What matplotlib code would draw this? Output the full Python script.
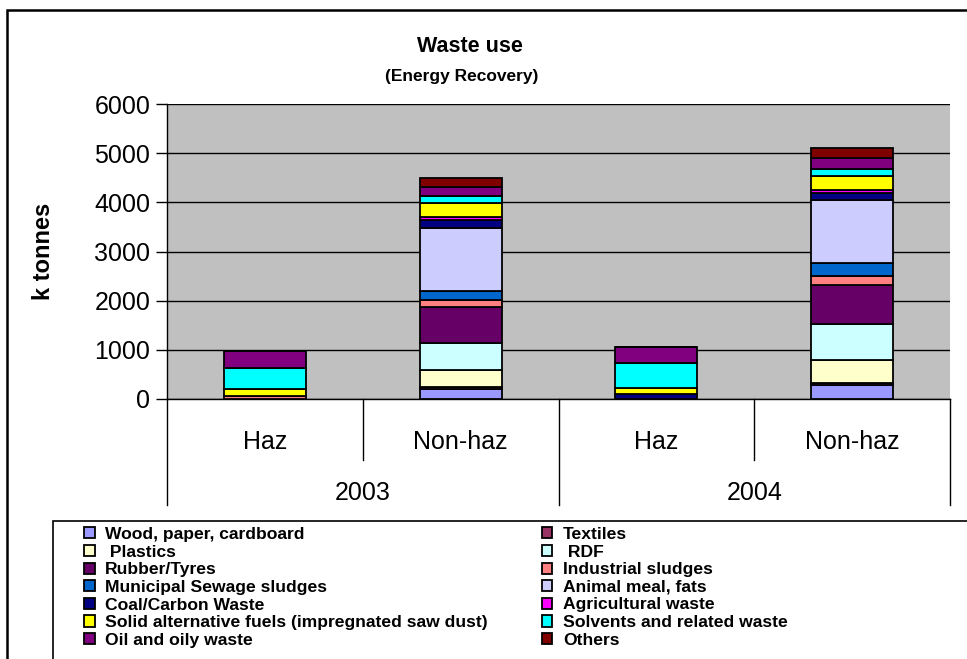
import numpy as np
import matplotlib.pyplot as plt
from matplotlib.patches import Rectangle

# categories
groups = ['Haz', 'Non-haz', 'Haz', 'Non-haz']
years = ['2003', '2004']

# waste streams, bottom to top of each stack
series = ['Wood, paper, cardboard', 'Textiles', ' Plastics', ' RDF', 'Rubber/Tyres',
          'Industrial sludges', 'Municipal Sewage sludges', 'Animal meal, fats',
          'Coal/Carbon Waste', 'Agricultural waste',
          'Solid alternative fuels (impregnated saw dust)', 'Solvents and related waste',
          'Oil and oily waste', 'Others']
colors = ['#9999FF', '#993366', '#FFFFCC', '#CCFFFF', '#660066', '#FF8080', '#0066CC',
          '#CCCCFF', '#000080', '#FF00FF', '#FFFF00', '#00FFFF', '#800080', '#800000']

# k tonnes: Haz 2003, Non-haz 2003, Haz 2004, Non-haz 2004
wood = [0, 200, 0, 280]
textiles = [0, 50, 0, 55]
plastics = [0, 330, 0, 465]
rdf = [0, 565, 0, 730]
rubber = [0, 725, 0, 790]
ind_sludges = [65, 135, 0, 185]
mun_sludges = [0, 190, 0, 255]
animal = [0, 1285, 0, 1290]
coal = [0, 155, 100, 145]
agri = [0, 70, 0, 65]
solid_alt = [135, 285, 120, 285]
solvents = [440, 135, 510, 135]
oil = [330, 190, 320, 225]
others = [0, 170, 0, 195]

values = [wood, textiles, plastics, rdf, rubber, ind_sludges, mun_sludges, animal,
          coal, agri, solid_alt, solvents, oil, others]

plt.rcParams['font.family'] = ['Liberation Sans', 'DejaVu Sans']

fig = plt.figure(figsize=(9.67, 6.59), dpi=100)
ax = fig.add_axes([167/967, 1-399/659, (950-167)/967, (399-104)/659])
ax.set_facecolor('#C0C0C0')

x = np.arange(len(groups))
bottom = np.zeros(len(groups))
handles = []
for name, vals, c in zip(series, values, colors):
    vals = np.array(vals, dtype=float)
    b = ax.bar(x, vals, 0.42, bottom=bottom, color=c, edgecolor='black', linewidth=1.3,
               label=name, zorder=3)
    handles.append(b)
    bottom += vals

ax.set_ylim(0, 6000)
ax.set_xlim(-0.5, 3.5)
ax.set_yticks(np.arange(0, 6001, 1000))
ax.yaxis.grid(True, color='black', linewidth=1, zorder=1)
ax.tick_params(axis='y', labelsize=18, length=8, width=1, direction='out', pad=4)
for s in ['top', 'right']:
    ax.spines[s].set_visible(False)
ax.spines['left'].set_linewidth(1)
ax.spines['bottom'].set_linewidth(1)

# category axis
ax.set_xticks(x)
ax.set_xticklabels(groups, fontsize=18)
ax.tick_params(axis='x', length=0, pad=22)
for xs in [0.5, 2.5]:
    ax.plot([xs, xs], [0, -0.207], color='black', lw=1, clip_on=False,
            transform=ax.get_xaxis_transform())
for xs in [-0.5, 1.5, 3.5]:
    ax.plot([xs, xs], [0, -0.36], color='black', lw=1, clip_on=False,
            transform=ax.get_xaxis_transform())
for i, yr in enumerate(years):
    ax.text(0.5 + 2 * i, -0.32, yr, fontsize=18, ha='center', va='center',
            transform=ax.get_xaxis_transform())

ax.set_ylabel('k tonnes', fontsize=17, fontweight='bold', labelpad=28)

fig.text(470/967, 1-47/659, 'Waste use', fontsize=15.5, fontweight='bold', ha='center', va='center')
fig.text(462/967, 1-77/659, '(Energy Recovery)', fontsize=12.5, fontweight='bold', ha='center', va='center')

# frames
fig.patches.append(Rectangle((7/967, -0.05), 1.1, 1 - 10/659 + 0.05, transform=fig.transFigure,
                             fill=False, edgecolor='black', lw=1.8))
fig.patches.append(Rectangle((53/967, -0.05), 1.1, 1 - 521/659 + 0.05, transform=fig.transFigure,
                             fill=False, edgecolor='black', lw=1.2))

order = list(range(0, 14, 2)) + list(range(1, 14, 2))
leg = fig.legend([handles[i] for i in order], [series[i] for i in order], ncol=2,
                 loc='upper left', bbox_to_anchor=(84/967, 1-527/659), frameon=False,
                 prop={'weight': 'bold', 'size': 12.6}, borderpad=0, borderaxespad=0,
                 labelspacing=0.15, handlelength=0.6, handleheight=0.6,
                 handletextpad=0.6, columnspacing=3.1)

fig.savefig('out.png', dpi=100)
